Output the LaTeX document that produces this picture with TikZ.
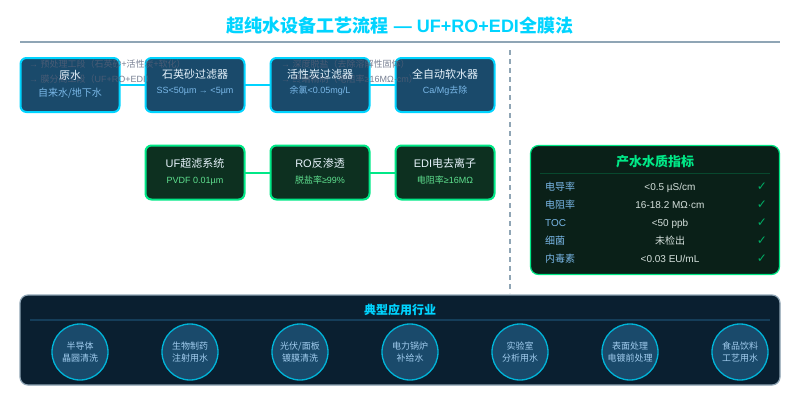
\documentclass[tikz,border=0pt]{standalone}
\usepackage{fontspec}
\setmainfont{Liberation Sans}
\newfontfamily\cjk{Noto Sans CJK SC}
\newfontfamily\sym{DejaVu Sans}
\newcommand\cj[1]{{\cjk #1}}
\definecolor{cy}{HTML}{00D4FF}
\definecolor{gn}{HTML}{00E887}
\definecolor{rulec}{HTML}{8FA5B5}
\definecolor{bluef}{HTML}{1A4A6B}
\definecolor{greenf}{HTML}{0D3020}
\definecolor{qualf}{HTML}{0A2018}
\definecolor{appf}{HTML}{0A1F30}
\definecolor{subb}{HTML}{7AB8E8}
\definecolor{subg}{HTML}{5FE08F}
\definecolor{mainw}{HTML}{E8F4FD}
\definecolor{valc}{HTML}{D5E0DC}
\definecolor{ringc}{HTML}{00B4D8}
\definecolor{legc}{HTML}{556078}
\tikzset{
  x=1pt,y=-1pt,
  pbox/.style={rounded corners=6pt,minimum width=99pt,minimum height=54pt,inner sep=0pt,outer sep=0pt},
  bluebox/.style={pbox,draw=cy,line width=2pt,fill=bluef},
  greenbox/.style={pbox,draw=gn,line width=2pt,fill=greenf},
  maint/.style={font=\fontsize{11}{13}\selectfont,text=mainw,inner sep=0pt,anchor=base},
  subblue/.style={font=\fontsize{9}{11}\selectfont,text=subb,inner sep=0pt,anchor=base},
  subgreen/.style={font=\fontsize{9}{11}\selectfont,text=subg,inner sep=0pt,anchor=base},
  cyline/.style={draw=cy,line width=2pt},
  gnline/.style={draw=gn,line width=2pt},
  leg/.style={font=\fontsize{9}{11}\selectfont,text=legc,text opacity=0.8,inner sep=0pt,anchor=base west},
  qlab/.style={font=\fontsize{10}{11}\selectfont,text=subb,inner sep=0pt,anchor=base west},
  qval/.style={font=\fontsize{10}{11}\selectfont,text=valc,inner sep=0pt,anchor=base},
  qchk/.style={font=\sym\fontsize{12}{12}\selectfont,text=gn!75!black,inner sep=0pt,anchor=base},
  appc/.style={circle,draw=ringc,line width=1.3pt,fill=bluef,minimum size=56pt,inner sep=0pt,outer sep=0pt,
    font=\fontsize{9}{12}\selectfont,text=subb!70!white,align=center},
}
\begin{document}
\begin{tikzpicture}
\useasboundingbox (0,0) rectangle (800,400);
\fill[white] (0,0) rectangle (800,400);
\node[inner sep=0pt,text=cy,font=\fontsize{18}{22}\selectfont\bfseries,anchor=base] (title) at (400,32)
  {\cj{超纯水设备工艺流程} — UF+RO+EDI\cj{全膜法}};
\coordinate (rl) at (20,42); \coordinate (rr) at (780,42);
\draw[rulec,line width=2pt] (rl) -- (rr);
\coordinate (dt) at (510,50); \coordinate (db) at (510,293);
\draw[rulec,line width=2pt,dash pattern=on 5pt off 4pt] (dt) -- (db);

\node[bluebox] (raw) at (70,85) {};
\node[bluebox] (sand) at (195,85) {};
\node[bluebox] (carbon) at (320,85) {};
\node[bluebox] (soft) at (445,85) {};
\node[greenbox] (uf) at (195,172.5) {};
\node[greenbox] (ro) at (320,172.5) {};
\node[greenbox] (edi) at (445,172.5) {};
\draw[cyline] (raw) -- (sand);
\draw[cyline] (sand) -- (carbon);
\draw[cyline] (carbon) -- (soft);
\draw[gnline] (uf) -- (ro);
\draw[gnline] (ro) -- (edi);

\node[leg] (l1) at (29,67.5) {→ \cj{预处理工段（石英砂+活性炭+软化）}};
\node[leg] (l2) at (29,82.5) {→ \cj{膜分离工段（}UF+RO+EDI\cj{）}};
\node[leg] (l3) at (281,67.5) {→ \cj{深度脱盐（去除溶解性固体）}};
\node[leg] (l4) at (281,82.5) {→ \cj{终端精制（电阻率}≥16MΩ·cm\cj{）}};

\node[maint] (t1) at (70,79) {\cj{原水}};
\node[subblue,font=\fontsize{10}{11}\selectfont] (s1) at (70,96) {\cj{自来水/地下水}};
\node[maint] (t2) at (195,78) {\cj{石英砂过滤器}};
\node[subblue] (s2) at (195,93.5) {SS<50µm → <5µm};
\node[maint] (t3) at (320,78) {\cj{活性炭过滤器}};
\node[subblue] (s3) at (320,93.5) {\cj{余氯}<0.05mg/L};
\node[maint] (t4) at (445,78) {\cj{全自动软水器}};
\node[subblue] (s4) at (445,93.5) {Ca/Mg\cj{去除}};
\node[maint] (t5) at (195,167) {UF\cj{超滤系统}};
\node[subgreen] (s5) at (195,183) {PVDF 0.01µm};
\node[maint] (t6) at (320,167) {RO\cj{反渗透}};
\node[subgreen] (s6) at (320,183) {\cj{脱盐率}≥99\%};
\node[maint] (t7) at (445,167) {EDI\cj{电去离子}};
\node[subgreen] (s7) at (445,183) {\cj{电阻率}≥16MΩ};

\node[rounded corners=8pt,draw=gn,line width=1.2pt,fill=qualf,minimum width=249pt,minimum height=129pt,inner sep=0pt] (qual) at (655,210) {};
\node[inner sep=0pt,text=gn,font=\fontsize{13}{15}\selectfont\bfseries] (qt) at (655,162) {\cj{产水水质指标}};
\coordinate (q1) at (540,173); \coordinate (q2) at (770,173);
\draw[gn!20!qualf,line width=1pt] (q1) -- (q2);
\foreach \y/\a/\b [count=\i] in {190/{\cj{电导率}}/{<0.5 µS/cm},208/{\cj{电阻率}}/{16-18.2 MΩ·cm},226/{TOC}/{<50 ppb},244/{\cj{细菌}}/{\cj{未检出}},262/{\cj{内毒素}}/{<0.03 EU/mL}}{
  \node[qlab] (ql\i) at (545,\y) {\a};
  \node[qval] (qv\i) at (670,\y) {\b};
  \node[qchk] (qc\i) at (762,\y) {✓};
}

\node[rounded corners=8pt,draw=rulec,line width=1.2pt,fill=appf,minimum width=760pt,minimum height=90pt,inner sep=0pt] (app) at (400,340) {};
\node[inner sep=0pt,text=cy,font=\fontsize{12}{14}\selectfont\bfseries] (at) at (400,310) {\cj{典型应用行业}};
\coordinate (a1) at (30,320); \coordinate (a2) at (770,320);
\draw[bluef!70!appf,line width=1.2pt] (a1) -- (a2);
\node[appc] (c1) at (80,352) {\cjk 半导体\\\cjk 晶圆清洗};
\node[appc] (c2) at (190,352) {\cjk 生物制药\\\cjk 注射用水};
\node[appc] (c3) at (300,352) {\cjk 光伏/面板\\\cjk 镀膜清洗};
\node[appc] (c4) at (410,352) {\cjk 电力锅炉\\\cjk 补给水};
\node[appc] (c5) at (520,352) {\cjk 实验室\\\cjk 分析用水};
\node[appc] (c6) at (630,352) {\cjk 表面处理\\\cjk 电镀前处理};
\node[appc] (c7) at (740,352) {\cjk 食品饮料\\\cjk 工艺用水};
\end{tikzpicture}
\end{document}
